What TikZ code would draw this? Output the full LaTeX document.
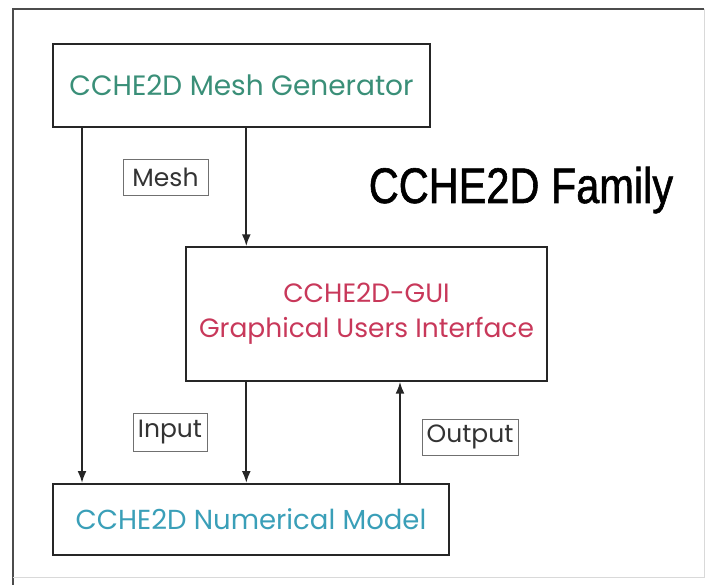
\documentclass[tikz,border=0pt]{standalone}
\usepackage{fontspec}
\setmainfont{Poppins}
\newfontfamily\titlefont[FakeStretch=0.83, FakeBold=1.2]{Liberation Sans}
\usetikzlibrary{arrows.meta, positioning}

\definecolor{gentext}{HTML}{3A8F78}
\definecolor{guitext}{HTML}{C8385A}
\definecolor{numtext}{HTML}{3A9FB8}
\definecolor{tagline}{HTML}{707070}

\tikzset{
  box/.style={draw=black!85, rectangle, inner sep=0pt, align=center},
  tagbox/.style={draw=tagline, line width=0.8pt, rectangle, inner sep=0pt,
    text=black!80, font=\fontsize{25}{27}\selectfont},
  arr/.style={-{Latex[length=12pt,width=9pt]}, line width=2pt, black!85}
}

\begin{document}
\begin{tikzpicture}[x=1pt, y=-1pt]
    \useasboundingbox (0,0) rectangle (706,585);

    % 外框
    \draw[line width=1.5pt, black!70] (704,9) -- (13,9) -- (13,585);
    \draw[line width=0.8pt, black!15] (704,9) -- (704,577) -- (13,577);

    % 三个模块
    \node[box, line width=2pt, minimum width=377pt, minimum height=83pt,
      text=gentext, font=\fontsize{28}{30}\selectfont] (gen) at (241.5,85.5)
      {CCHE2D Mesh Generator};
    \node[box, line width=1.4pt, minimum width=361pt, minimum height=134pt,
      text=guitext, font=\fontsize{26.5}{35}\selectfont] (gui) at (366.5,314)
      {CCHE2D-GUI\\Graphical Users Interface};
    \node[box, line width=2pt, minimum width=396pt, minimum height=71pt,
      text=numtext, font=\fontsize{27.5}{30}\selectfont] (num) at (251,519.5)
      {CCHE2D Numerical Model};

    % 标题
    \node[anchor=base, font=\titlefont\fontsize{50}{56}\selectfont] (title)
      at (521,203) {CCHE2D Family};

    % 连接点
    \coordinate (meshin) at ([xshift=61pt]gui.north west);
    \coordinate (outtap) at ([xshift=-50pt]num.north east);

    % 箭头
    \draw[arr] ([xshift=30pt]gen.south west) -- ([xshift=30pt]num.north west);
    \draw[arr] (gen.south -| meshin) -- (meshin);
    \draw[arr] (gui.south -| meshin) -- (num.north -| meshin);
    \draw[arr] (outtap) -- (gui.south -| outtap);

    % 标签
    \node[tagbox, minimum width=85pt, minimum height=36pt] (meshtag) at (165.5,177) {Mesh};
    \node[tagbox, minimum width=74pt, minimum height=38pt] (intag) at (170,432) {Input};
    \node[tagbox, minimum width=96pt, minimum height=36pt] (outtag) at (470,437) {Output};
\end{tikzpicture}
\end{document}
